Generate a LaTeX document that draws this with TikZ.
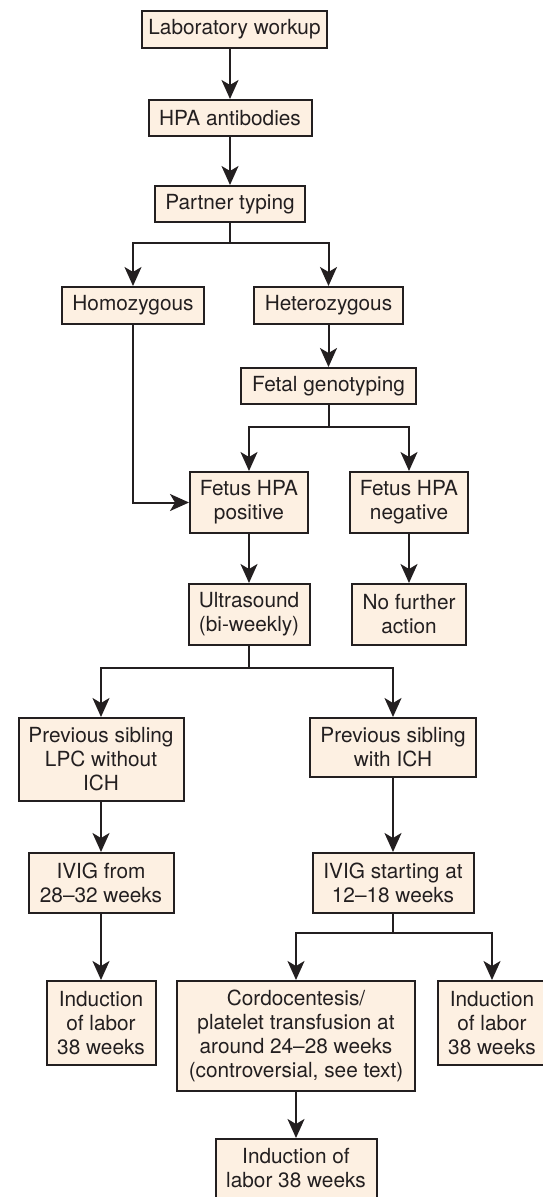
\documentclass[tikz,border=0pt]{standalone}
\usepackage{fontspec}
\setmainfont{TeX Gyre Heros}
\usetikzlibrary{arrows.meta}
\definecolor{boxfill}{RGB}{253,240,226}
\definecolor{boxline}{RGB}{35,31,32}
\begin{document}
\begin{tikzpicture}[x=0.5pt,y=-0.5pt,
    box/.style={draw=boxline,fill=boxfill,line width=1pt,align=center,inner sep=0pt,
      text=boxline,font=\fontsize{10.4}{12}\selectfont},
    arr/.style={draw=boxline,line width=1pt,-{Stealth[length=9.5pt,width=8.5pt,inset=2.5pt]}}]
  \useasboundingbox (0,0) rectangle (542,1197);
  \node[box,minimum width=92.5pt,minimum height=18.5pt] (lab) at (234.5,29.5) {Laboratory workup};
  \node[box,minimum width=81.5pt,minimum height=18pt] (hpa) at (230,118) {HPA antibodies};
  \node[box,minimum width=75pt,minimum height=18pt] (partner) at (230,204) {Partner typing};
  \node[box,minimum width=71pt,minimum height=18.5pt] (homo) at (133,305.5) {Homozygous};
  \node[box,minimum width=74.5pt,minimum height=18.5pt] (hetero) at (328.5,305.5) {Heterozygous};
  \node[box,minimum width=87.5pt,minimum height=18pt] (fetal) at (328.5,386) {Fetal genotyping};
  \node[box,minimum width=59pt,minimum height=30.5pt] (fpos) at (249,502.5) {Fetus HPA\\positive};
  \node[box,minimum width=59pt,minimum height=30.5pt] (fneg) at (409,502.5) {Fetus HPA\\negative};
  \node[box,minimum width=60.5pt,minimum height=30.5pt] (ultra) at (249,614.5) {Ultrasound\\(bi-weekly)};
  \node[box,minimum width=57pt,minimum height=30.5pt] (nofurther) at (409,614.5) {No further\\action};
  \node[box,minimum width=82.5pt,minimum height=41.5pt] (prevlpc) at (101,759.5) {Previous sibling\\LPC without\\ICH};
  \node[box,minimum width=83pt,minimum height=29.5pt] (previch) at (393,747.5) {Previous sibling\\with ICH};
  \node[box,minimum width=72.5pt,minimum height=30pt] (ivigfrom) at (101,883) {IVIG from\\28--32 weeks};
  \node[box,minimum width=80.5pt,minimum height=30pt] (ivigstart) at (393,883) {IVIG starting at\\12--18 weeks};
  \node[box,minimum width=54.5pt,minimum height=42pt] (indleft) at (101,1023) {Induction\\of labor\\38 weeks};
  \node[box,minimum width=119pt,minimum height=55pt] (cordo) at (296,1036)
    {Cordocentesis/\\platelet transfusion at\\around 24--28 weeks\\(controversial, see text)};
  \node[box,minimum width=54pt,minimum height=42pt] (indright) at (492,1023) {Induction\\of labor\\38 weeks};
  \node[box,minimum width=80.5pt,minimum height=29.5pt] (indlast) at (296,1168.5) {Induction of\\labor 38 weeks};

  \draw[arr] (hpa.north |- lab.south) -- (hpa.north);
  \draw[arr] (hpa) -- (partner);
  \draw[arr] (partner.south) -- +(0,20) -| (homo.north);
  \draw[arr] (partner.south) -- +(0,20) -| (hetero.north);
  \draw[arr] (hetero) -- (fetal);
  \draw[arr] (fetal.south) -- +(0,22) -| (fpos.north);
  \draw[arr] (fetal.south) -- +(0,22) -| (fneg.north);
  \draw[arr] (homo.south) |- (fpos.west);
  \draw[arr] (fpos) -- (ultra);
  \draw[arr] (fneg) -- (nofurther);
  \draw[arr] (ultra.south) -- +(0,22) -| (prevlpc.north);
  \draw[arr] (ultra.south) -- +(0,22) -| (previch.north);
  \draw[arr] (prevlpc) -- (ivigfrom);
  \draw[arr] (ivigfrom) -- (indleft);
  \draw[arr] (previch) -- (ivigstart);
  \draw[arr] (ivigstart.south) -- +(0,19) -| (cordo.north);
  \draw[arr] (ivigstart.south) -- +(0,19) -| (indright.north);
  \draw[arr] (cordo) -- (indlast);
\end{tikzpicture}
\end{document}
